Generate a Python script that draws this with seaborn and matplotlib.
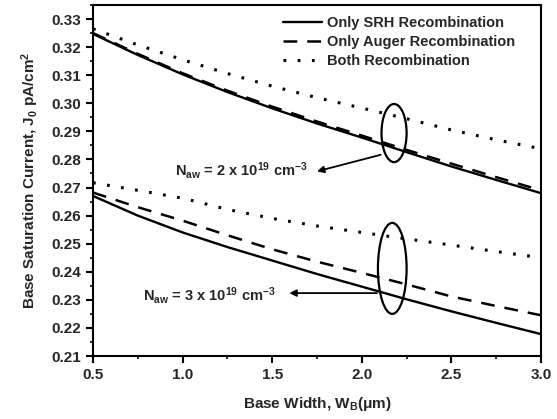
import numpy as np
import pandas as pd
import matplotlib
matplotlib.use("Agg")
import matplotlib.pyplot as plt
from matplotlib.patches import Ellipse
from matplotlib.ticker import MultipleLocator
import seaborn as sns

# ---- data ----
width_um = [0.5, 0.75, 1.0, 1.25, 1.5, 1.75, 2.0, 2.25, 2.5, 2.75, 3.0]

srh_2e19 = [0.3247, 0.3172, 0.3103, 0.3040, 0.2982, 0.2928, 0.2878, 0.2826, 0.2775, 0.2727, 0.2680]
auger_2e19 = [0.3250, 0.3176, 0.3107, 0.3045, 0.2988, 0.2935, 0.2885, 0.2834, 0.2785, 0.2737, 0.2690]
both_2e19 = [0.3265, 0.3208, 0.3155, 0.3106, 0.3061, 0.3020, 0.2983, 0.2945, 0.2905, 0.2870, 0.2838]

srh_3e19 = [0.2670, 0.2600, 0.2540, 0.2488, 0.2440, 0.2392, 0.2347, 0.2302, 0.2259, 0.2218, 0.2178]
auger_3e19 = [0.2682, 0.2630, 0.2582, 0.2530, 0.2480, 0.2436, 0.2396, 0.2355, 0.2312, 0.2278, 0.2245]
both_3e19 = [0.2717, 0.2690, 0.2662, 0.2622, 0.2590, 0.2563, 0.2540, 0.2517, 0.2495, 0.2472, 0.2450]

legend_labels = ["Only SRH Recombination", "Only Auger Recombination", "Both Recombination"]
y_ticks = [0.21, 0.22, 0.23, 0.24, 0.25, 0.26, 0.27, 0.28, 0.29, 0.30, 0.31, 0.32, 0.33]
x_ticks = [0.5, 1.0, 1.5, 2.0, 2.5, 3.0]

sns.set_style("ticks")
plt.rcParams["font.family"] = ["Liberation Sans", "DejaVu Sans"]
plt.rcParams["font.weight"] = "bold"
plt.rcParams["mathtext.fontset"] = "custom"
plt.rcParams["mathtext.rm"] = "Liberation Sans:bold"
plt.rcParams["mathtext.it"] = "Liberation Sans:bold"
plt.rcParams["mathtext.bf"] = "Liberation Sans:bold"
plt.rcParams["mathtext.default"] = "rm"

fig = plt.figure(figsize=(5.57, 4.19), dpi=100)
ax = fig.add_axes([93 / 557, 1 - 356 / 419, 448 / 557, 351 / 419])

styles = ["-", (0, (5.5, 4)), (0, (0.9, 3.75))]
widths = [1.7, 1.8, 2.2]
groups_upper = [srh_2e19, auger_2e19, both_2e19]
groups_lower = [srh_3e19, auger_3e19, both_3e19]

for vals, ls, lw, lab in zip(groups_upper, styles, widths, legend_labels):
    sns.lineplot(x=width_um, y=vals, ax=ax, color="black", linewidth=lw,
                 linestyle=ls, label=lab)
for vals, ls, lw in zip(groups_lower, styles, widths):
    sns.lineplot(x=width_um, y=vals, ax=ax, color="black", linewidth=lw,
                 linestyle=ls, legend=False)

ax.set_xlim(0.5, 3.0)
ax.set_ylim(0.21, 0.21 + 351 / 2808)
ax.set_xticks(x_ticks)
ax.set_yticks(y_ticks)
ax.set_xticklabels([f"{v:.1f}" for v in x_ticks], fontsize=11, fontweight="bold")
ax.set_yticklabels([f"{v:.2f}" for v in y_ticks], fontsize=11, fontweight="bold")
ax.xaxis.set_minor_locator(MultipleLocator(0.25))
ax.yaxis.set_minor_locator(MultipleLocator(0.005))
ax.tick_params(which="major", direction="out", length=5, width=1.5, color="black")
ax.tick_params(which="minor", direction="out", length=2.5, width=1.2, color="black")
for sp in ax.spines.values():
    sp.set_linewidth(1.5)
    sp.set_color("black")
    sp.set_visible(True)

ax.set_xlabel("Base Width, W$_B$($\\mu$m)", fontsize=11, fontweight="bold", labelpad=9.5)
ax.set_ylabel("Base Saturation Current, J$_0$ pA/cm$^2$", fontsize=11, fontweight="bold", labelpad=7.5)

leg = ax.legend(loc="upper left", bbox_to_anchor=(0.41, 0.986), frameon=False,
                fontsize=10.5, handlelength=2.7, handletextpad=0.35, labelspacing=0.35,
                borderaxespad=0)
for t in leg.get_texts():
    t.set_fontweight("bold")

# annotations
ax.add_patch(Ellipse((2.18, 0.2894), 0.14, 0.0207, fill=False, edgecolor="black", linewidth=1.6))
ax.add_patch(Ellipse((2.17, 0.2412), 0.16, 0.0324, fill=False, edgecolor="black", linewidth=1.6))

ax.annotate("", xy=(1.735, 0.2755), xytext=(2.12, 0.2819),
            arrowprops=dict(arrowstyle="-|>", color="black", lw=1.3, mutation_scale=10))
ax.annotate("", xy=(1.58, 0.2324), xytext=(2.10, 0.2324),
            arrowprops=dict(arrowstyle="-|>", color="black", lw=1.3, mutation_scale=10))

ax.text(0.957, 0.2762, "N$_{aw}$ = 2 x 10$^{19}$ cm$^{-3}$", fontsize=10.5,
        fontweight="bold", ha="left", va="center")
ax.text(0.78, 0.2314, "N$_{aw}$ = 3 x 10$^{19}$ cm$^{-3}$", fontsize=10.5,
        fontweight="bold", ha="left", va="center")

fig.savefig("out.png", dpi=100)
